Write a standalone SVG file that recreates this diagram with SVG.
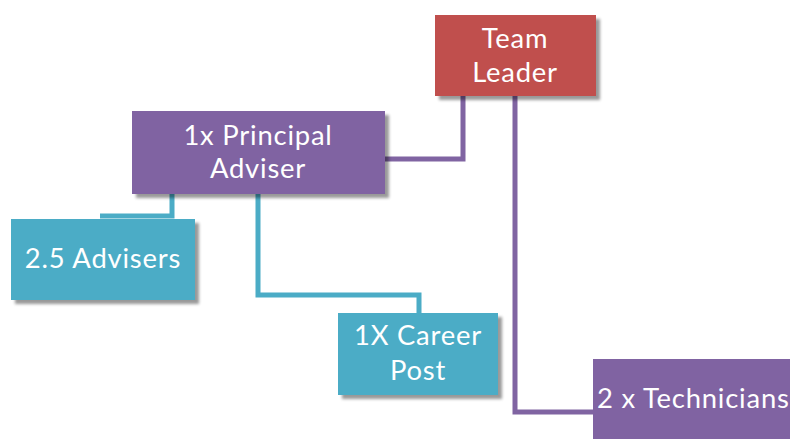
<svg xmlns="http://www.w3.org/2000/svg" width="790" height="439" viewBox="0 0 790 439">
  <defs>
    <filter id="shadow" x="-10%" y="-10%" width="130%" height="140%">
      <feDropShadow dx="4" dy="4" stdDeviation="1.5" flood-color="#000" flood-opacity="0.4"/>
    </filter>
  </defs>
  <style>
    .box { filter: url(#shadow); }
    .red { fill: #C0504D; }
    .purple { fill: #8064A2; }
    .teal { fill: #4BACC6; }
    .label { font-family: Lato, "Open Sans", sans-serif; font-size: 27.4px; letter-spacing: 0.8px; fill: #ffffff; text-anchor: middle; }
    .link { fill: none; stroke-width: 5; stroke-linejoin: miter; }
    .link-purple { stroke: #8064A2; }
    .link-teal { stroke: #4BACC6; }
  </style>
  <rect width="790" height="439" fill="#ffffff"/>

  <!-- connectors -->
  <g id="connectors">
    <polyline class="link link-purple" points="463,96 463,159 385,159"/>
    <polyline class="link link-purple" points="515,96 515,412 595,412"/>
    <polyline class="link link-teal" points="172,194 172,216 100,216"/>
    <polyline class="link link-teal" points="258,194 258,295 419,295 419,314"/>
  </g>

  <g id="team-leader">
    <rect class="box red" x="435" y="15" width="161" height="81"/>
    <text class="label" x="515" y="48">Team</text>
    <text class="label" x="515" y="82">Leader</text>
  </g>

  <g id="principal-adviser">
    <rect class="box purple" x="132" y="111" width="253" height="83"/>
    <text class="label" x="258" y="145">1x Principal</text>
    <text class="label" x="258" y="178">Adviser</text>
  </g>

  <g id="advisers">
    <rect class="box teal" x="11" y="219" width="184" height="81"/>
    <text class="label" x="103" y="268">2.5 Advisers</text>
  </g>

  <g id="career-post">
    <rect class="box teal" x="338" y="313" width="160" height="82"/>
    <text class="label" x="418" y="345">1X Career</text>
    <text class="label" x="418" y="380">Post</text>
  </g>

  <g id="technicians">
    <rect class="box purple" x="593" y="359" width="210" height="90"/>
    <text class="label" x="597" y="408" style="text-anchor:start">2 x Technicians</text>
  </g>
</svg>
